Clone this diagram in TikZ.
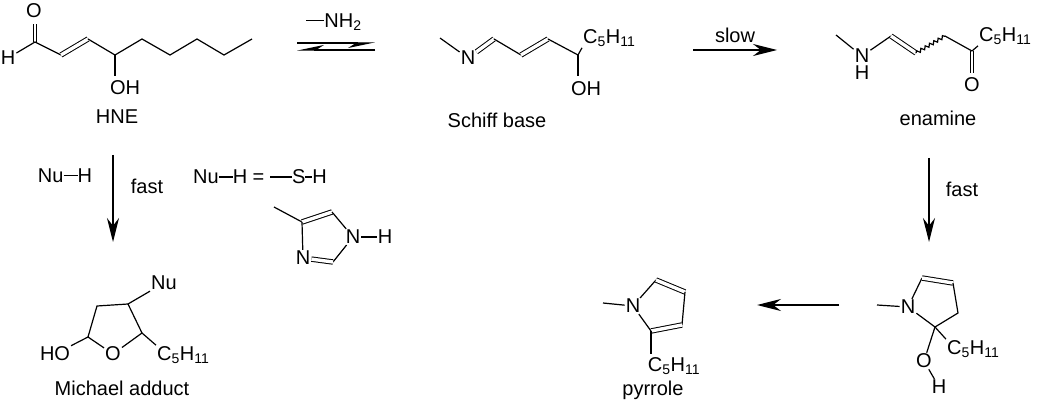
\documentclass[tikz,border=0pt]{standalone}
\usepackage{fontspec}
\setmainfont{Liberation Sans}
\usetikzlibrary{arrows.meta,decorations.pathmorphing}
\newcommand\pentyl{C\textsubscript{5}H\textsubscript{11}}
\tikzset{
  atom/.style={inner sep=1pt},
  bond/.style={line width=1.2pt},
  dbond/.style={double, double distance=3.4pt, line width=1pt},
  rxn/.style={line width=1.3pt, -{Stealth[length=24pt,width=12pt]}},
  caption/.style={inner sep=0pt}
}
\begin{document}
\begin{tikzpicture}[x=1pt,y=-1pt,font=\fontsize{20}{24}\selectfont]
  \useasboundingbox (0,0) rectangle (1050,401);
  % HNE
  \node[atom] (hneH) at (8,58) {H};
  \node[atom] (hneO) at (34,11) {O};
  \node[atom] (hneOH) at (125,88) {OH};
  \draw[bond] (hneH) -- (35,42) -- (61,55);
  \draw[dbond] (61,55) -- (88,39);
  \draw[bond] (88,39) -- (115,55) -- (142,39) -- (170,55) -- (197,39) -- (224,55) -- (252,39);
  \draw[bond] (33.2,42) -- (33.2,24) (36.8,42) -- (36.8,24);
  \draw[bond] (115,55) -- (115,76);
  \node[caption] (hne) at (117,117) {HNE};
  % equilibrium
  \node[atom] (amine) at (334,22) {\rule[0.6ex]{18pt}{1.1pt}NH\textsubscript{2}};
  \draw[line width=1.2pt, -{Stealth[harpoon,swap,length=24pt,width=10pt]}] (297,43) -- (375,43);
  \draw[line width=1.2pt, -{Stealth[harpoon,swap,length=24pt,width=10pt]}] (375,50) -- (297,50);
  % Schiff base
  \node[atom] (sbN) at (468,58) {N};
  \draw[bond] (440,38) -- (sbN);
  \draw[dbond] (sbN) -- (494,39);
  \draw[bond] (494,39) -- (521,55);
  \draw[dbond] (521,55) -- (548,39);
  \draw[bond] (548,39) -- (578,55);
  \node[atom,anchor=west] (sbR) at (582,38) {\pentyl};
  \node[atom] (sbOH) at (586,89) {OH};
  \draw[bond] (578,55) -- (sbR.south west);
  \draw[bond] (578,55) -- (578,76);
  \node[caption] (schiff) at (497,120) {Schiff base};
  % slow
  \draw[rxn] (693,50) -- (777,50) node[midway,above=3pt] {slow};
  % enamine
  \node[atom] (enN) at (862,56) {N};
  \node[atom] (enH) at (862,73) {H};
  \draw[bond] (836,35) -- (enN);
  \draw[bond] (enN) -- (891,36);
  \draw[dbond] (891,36) -- (916,53);
  \draw[bond, decorate, decoration={snake,amplitude=1.6pt,segment length=5pt}] (916,53) -- (945,36);
  \draw[bond] (945,36) -- (972,51);
  \node[atom] (enO) at (972,85) {O};
  \draw[bond] (970.2,51) -- (970.2,73) (973.8,51) -- (973.8,73);
  \node[atom,anchor=west] (enR) at (978,36) {\pentyl};
  \draw[bond] (972,51) -- (enR.south west);
  \node[caption] (enamine) at (938,118) {enamine};
  % fast (right)
  \draw[rxn] (929,158) -- (929,242);
  \node[caption] (fastR) at (962,189) {fast};
  % hemiaminal
  \node[atom] (hmN) at (908,307) {N};
  \draw[bond] (877,305) -- (hmN);
  \draw[bond] (hmN) -- (922,278);
  \draw[dbond] (922,278) -- (953,283);
  \draw[bond] (953,283) -- (958,313) -- (935,327) -- (hmN);
  \node[atom,anchor=west] (hmR) at (946,349) {\pentyl};
  \draw[bond] (935,327) -- (hmR.north west);
  \node[atom] (hmO) at (924,361) {O};
  \node[atom] (hmH) at (939,387) {H};
  \draw[bond] (935,327) -- (hmO);
  \draw[bond] (hmO) -- (hmH);
  % to pyrrole
  \draw[rxn] (839,305) -- (757,305);
  % pyrrole
  \node[atom] (pyN) at (633,306) {N};
  \draw[bond] (603,303) -- (pyN);
  \draw[bond] (pyN) -- (656,280);
  \draw[dbond] (656,280) -- (685,292);
  \draw[bond] (685,292) -- (682,325);
  \draw[dbond] (682,325) -- (651,331);
  \draw[bond] (651,331) -- (pyN);
  \node[atom] (pyR) at (674,366) {\pentyl};
  \draw[bond] (651,331) -- (651,354);
  \node[caption] (pyrrole) at (653,390) {pyrrole};
  % fast (left)
  \node[atom] (nuh) at (65,176) {Nu\rule[0.6ex]{14pt}{1.1pt}H};
  \draw[rxn] (113,155) -- (113,242);
  \node[caption] (fastL) at (147,186) {fast};
  \node[atom,anchor=west] (nudef) at (192,177) {Nu\rule[0.6ex]{14pt}{1.1pt}H = \rule[0.6ex]{22pt}{1.1pt}S\rule[0.6ex]{7pt}{1.1pt}H};
  % imidazole
  \node[atom] (imN1) at (353,237) {N};
  \node[atom] (imH) at (385,237) {H};
  \node[atom] (imN3) at (303,258) {N};
  \draw[bond] (274,207) -- (302,222);
  \draw[dbond] (302,222) -- (332,212);
  \draw[bond] (332,212) -- (imN1);
  \draw[bond] (imN1) -- (imH);
  \draw[bond] (imN1) -- (333,262);
  \draw[dbond] (333,262) -- (imN3);
  \draw[bond] (imN3) -- (302,222);
  % Michael adduct
  \node[atom] (maO) at (113,354) {O};
  \node[atom] (maHO) at (55,354) {HO};
  \node[atom] (maNu) at (164,283) {Nu};
  \node[atom,anchor=west] (maR) at (156,355) {\pentyl};
  \draw[bond] (maO) -- (88,337) -- (97,306) -- (128,304) -- (142,333) -- (maO);
  \draw[bond] (88,337) -- (maHO);
  \draw[bond] (128,304) -- (maNu);
  \draw[bond] (142,333) -- (maR.north west);
  \node[caption] (michael) at (122,388) {Michael adduct};
\end{tikzpicture}
\end{document}
